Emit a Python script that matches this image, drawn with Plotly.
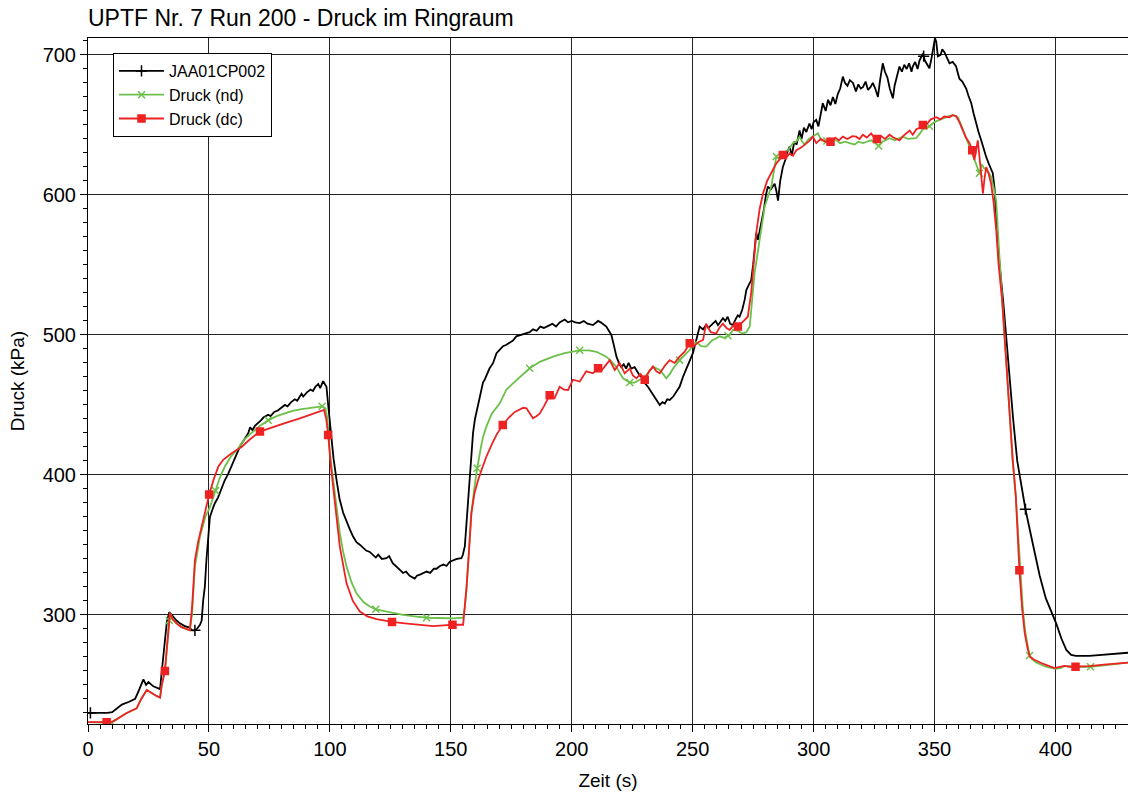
import numpy as np
import plotly.graph_objects as go

# ---------------- data ----------------
t_black = [0, 2, 5, 8, 10, 12, 14, 17, 19.5, 21, 22.9, 24, 25, 27, 29.8, 30.4, 31.5, 32.6, 33.6, 34.5, 36.6, 38, 40, 42, 43, 44.2, 45, 46.3, 47, 47.6, 48.3, 49, 49.8, 50.4, 51.8, 52.5, 53.8, 55, 56.5, 58, 59, 60.5, 62.1, 63, 64.5, 66.3, 67, 68, 69, 70.4, 71.5, 72.5, 74.5, 75.5, 77, 78.5, 80, 81.4, 82.5, 84, 85.5, 86.5, 88.3, 89, 90.5, 92, 93, 94, 95.2, 96, 97.2, 97.9, 98.6, 99.3, 100, 100.7, 101.5, 102.8, 104, 105.5, 107, 108.3, 109.6, 111, 112.5, 113.8, 115, 116.5, 117.9, 119, 120, 121.5, 123.4, 124.5, 126, 127.6, 129, 130.3, 131.5, 133, 135.1, 136, 137.5, 138.6, 140, 141.5, 143, 144.1, 145.5, 147, 148.2, 149.6, 151, 152.5, 154.4, 155, 155.8, 156.5, 157.2, 158, 159.2, 160, 161.3, 162.3, 163.3, 164, 165, 166, 167.5, 168.9, 170, 171.6, 173, 175.7, 177.1, 179, 180.5, 182.6, 184, 185.5, 187, 188.5, 190.9, 192, 193.5, 195, 197.1, 198.5, 200, 201.5, 203.3, 205, 206.5, 208.8, 210.9, 212, 214.3, 215.5, 216.4, 217.5, 218.5, 219.5, 220.5, 221.5, 222.5, 223.5, 224.6, 226, 227, 228.1, 229, 230, 231.5, 233, 234.5, 236.4, 237.5, 238.5, 239.5, 240.5, 242, 243.5, 244.6, 246, 247.5, 248.8, 250.1, 251, 252, 252.9, 254.3, 255.5, 256.5, 258.4, 259.5, 260.5, 262.5, 263.5, 264.5, 265.5, 266.6, 268, 268.7, 269.4, 270.5, 271.5, 272.2, 273, 274.2, 275, 276.3, 277, 278.4, 279.5, 280.3, 281.1, 282.3, 283.9, 284.6, 285.3, 286.2, 287.3, 288.3, 289, 290.1, 291, 292, 293, 294.2, 295, 296, 297, 298.3, 299.2, 300, 301.1, 302, 303, 303.8, 305, 306, 307, 308, 309, 310, 311, 312.1, 313, 314, 315, 316.3, 317.5, 318.5, 319.5, 320.4, 321.5, 322.5, 323.5, 324.5, 325.5, 326.6, 327.5, 328.6, 329.5, 330.5, 331.5, 332.8, 333.5, 334.5, 335.5, 336.5, 337.5, 338.5, 339.5, 340.5, 341, 342, 343, 343.8, 344.5, 345.2, 346, 347, 347.9, 348.8, 349.5, 350.2, 350.7, 351.4, 352.5, 353.2, 354.1, 355, 356.2, 357.5, 358.9, 359.5, 360.3, 361.5, 363.1, 364, 365.2, 366.2, 367.2, 368.2, 369.3, 370.3, 371.4, 372.5, 373.5, 374.1, 374.8, 375.5, 376.5, 378.5, 380.5, 382.5, 384.2, 386, 387.6, 389.5, 391.5, 393.5, 396, 398.8, 400.3, 402.5, 404.5, 406.5, 408.5, 414, 420, 425, 430]
p_black = [230, 230, 229.5, 230, 230.5, 233, 236, 238, 240, 246, 254, 250, 252, 249, 247, 258, 275, 295, 302, 300, 296, 294, 292, 291, 289, 289, 290, 293, 296, 310, 320, 340, 360, 370, 377, 380, 384, 390, 396, 401, 405, 411, 418, 421, 425, 430, 434, 432, 435, 437, 439, 441, 443, 442, 445, 446, 448, 450, 449, 452, 454, 453, 458, 456, 459, 461, 460, 463, 465, 462, 467, 465, 463, 450, 438, 425, 412, 396, 383, 373, 366, 361, 356, 352, 350, 348, 346, 345, 343, 341, 343, 340, 340.5, 342, 337, 334.5, 332, 330, 331, 328, 326, 328, 329, 330, 331, 330, 333, 333, 335, 336, 335, 338, 339, 340, 340.5, 343, 349, 365, 382, 405, 430, 440, 449, 458, 466, 468, 472, 476, 480, 487, 489, 492, 493, 496, 499, 500, 501, 502, 504, 503, 506, 505, 507, 508, 506, 509, 511, 509, 510, 509, 508.5, 510, 508, 507, 510, 509, 506, 503, 500, 492, 484.5, 480, 477, 479, 476, 480, 476, 477, 474, 471, 470, 466, 463, 459, 455, 450, 452, 451, 454, 453.6, 456, 460, 463, 470, 476, 482, 487, 493, 500, 506, 504, 507, 505, 508, 510, 507, 512, 510, 513, 508, 507, 512, 514, 513, 518, 525, 532, 535, 539, 550, 573, 568, 580, 590, 600, 606, 604, 608, 603, 596, 610, 620, 625, 630, 634.5, 628, 638, 636, 646, 640, 648, 645, 651, 647, 652, 653.6, 649, 660, 665.5, 660, 668, 664, 670, 665, 672, 676, 684.5, 680, 678, 682, 680, 674, 679, 676, 677, 681, 675, 677, 680, 676, 670, 682, 694, 688, 684, 676, 669, 678, 686, 691.7, 688, 693, 690, 694, 688, 691.7, 695, 690, 696, 698, 701, 696, 693, 690.5, 698, 705, 712, 709.5, 699, 700, 704, 702, 698, 694, 695, 692, 688, 683, 681, 676, 671, 665.5, 658, 651, 645, 639, 633, 627, 622, 618, 615.5, 605, 584.5, 558, 522, 480, 440, 410, 390, 375.5, 360, 344, 328, 312, 300, 294, 283, 275, 271.5, 270.7, 270.7, 271.5, 272.3, 273]

t_nd = [0, 4, 7.7, 9.8, 10.5, 13, 16, 20.1, 22, 24.3, 26, 28, 29.8, 30.5, 31.8, 33, 33.9, 35, 36.6, 38.5, 40.5, 42.1, 43, 44.2, 46.3, 48.5, 50.4, 52.7, 54.5, 56.6, 59, 62.1, 64.5, 67.6, 71, 74.5, 78, 81.4, 85, 88.3, 92, 96.8, 98.2, 99, 100, 101.4, 102.8, 104.1, 105.5, 106.9, 109, 111, 114, 116.5, 119, 124, 130.3, 135, 140, 145, 151, 155.1, 155.8, 156.5, 157.5, 158.5, 159.7, 160.9, 162.5, 163.3, 164.7, 167, 170.2, 172.9, 175.5, 178.5, 182.6, 187, 192.3, 197, 203.3, 207, 210.2, 214.3, 216.5, 218.5, 220, 221.2, 224, 226, 228.1, 230.9, 233.6, 236.4, 237.8, 239.1, 240.5, 241.9, 244.6, 248.1, 251.5, 253.5, 255.6, 258, 259.8, 261.2, 263, 265.3, 266.6, 268.7, 270.5, 272.2, 273.6, 275.6, 277.7, 279.8, 282.5, 283.5, 284.6, 286, 287.3, 289.5, 291.4, 292.8, 294.2, 295.3, 296.3, 298, 300, 301.8, 303.2, 305, 307, 309.4, 311, 313, 314.9, 317, 318.5, 320.4, 322, 323.8, 325.5, 326.9, 328.5, 331.4, 333.5, 336.9, 339, 342.4, 344, 345.2, 347.9, 350, 352, 354, 356.2, 357.8, 359.6, 361, 362.4, 363.8, 365.2, 366.8, 368.6, 369.5, 370.5, 371.4, 372.4, 373.4, 374.5, 375.5, 376.7, 377.9, 379.5, 381, 382.3, 383.6, 384.5, 385.5, 386.5, 387.5, 388.5, 389.3, 390.5, 392, 396, 400, 402, 404, 408, 414.5, 420, 425, 430]
p_nd = [223.4, 223.4, 223.4, 223, 224, 227, 230, 233.3, 240, 246.4, 244.5, 242.5, 241, 250, 260, 285, 301.6, 297, 294, 291.5, 290, 289, 300, 334.5, 356, 370, 377, 388.8, 398, 406, 413, 419, 425, 430, 435, 439, 442, 444, 446, 447, 448, 449, 447.6, 440, 415.5, 396.4, 375, 358.6, 345, 334.5, 323, 315.5, 309, 306, 304, 302, 300, 299, 298, 297.8, 297.6, 298, 305, 318, 345, 372.6, 390, 404.8, 420, 427, 434.5, 444, 451, 460.7, 465, 470, 476.2, 481, 484.5, 487, 489, 489, 488, 484.5, 481, 477, 473, 469, 466, 466, 468, 471.4, 477.4, 475, 472, 469, 472, 476, 482, 488, 495, 492, 491.7, 496, 497.6, 499, 498, 500, 503.6, 503, 501, 502, 506, 544, 568, 591.7, 606, 616, 627.4, 626, 629.8, 632, 637, 638, 641.6, 638, 636, 640, 642, 644, 639, 638, 640, 639, 637, 638, 637, 636, 638, 637, 638, 639, 637, 635, 638, 640.5, 639, 641.6, 640, 640.5, 644, 647, 649, 652, 653.6, 655, 656.4, 657, 655.5, 650, 644, 638, 632, 624, 615.5, 622, 619, 618, 616, 613, 605, 596, 560, 526, 482, 442, 410, 385, 360, 330, 305, 288, 277, 271, 268, 266, 263, 261.5, 262, 263.5, 263, 263, 264, 265, 266]

t_dc = [0, 4, 7.7, 10.5, 13, 16, 20.1, 22, 24.3, 26, 28, 29.8, 30.5, 31.8, 33, 33.9, 35, 36.6, 38.5, 40.5, 42.1, 43, 44.2, 45.5, 47, 48.5, 50.1, 52, 53.9, 56, 59.4, 63.5, 67, 71.1, 76, 81.4, 87, 92, 97.6, 98.5, 99.3, 100.5, 102.1, 104.1, 106.9, 109.5, 112.4, 115.5, 119.3, 125.7, 131, 137.2, 142.7, 147, 150.7, 155.1, 155.8, 156.5, 157.5, 158.5, 159.8, 161.3, 163, 164.7, 167, 169, 171.5, 174, 176.5, 178.5, 180, 181.3, 182.5, 184, 185.5, 186.8, 188.5, 190.9, 192.9, 195, 196.8, 198.5, 200.5, 203.3, 206, 208.8, 210.9, 212.5, 213.6, 215.7, 217.8, 219.8, 221.9, 224, 225.3, 226.7, 228.5, 230.2, 232, 233.6, 235, 236.4, 238.5, 240.5, 242.5, 244.6, 246.7, 248.8, 250.5, 252.5, 254.3, 255.6, 257.5, 259.8, 261, 262.5, 264, 265.3, 267, 268.7, 270.5, 272.8, 274.2, 275.3, 276.3, 277.7, 279.1, 280.8, 282.5, 284.6, 285.8, 287.3, 288.5, 290.1, 291.5, 292.9, 295, 297, 298.5, 299.7, 301.1, 303, 305, 307, 309, 310.5, 312.1, 314, 316, 317.6, 319, 320.4, 322, 323.8, 325, 326.2, 328, 329.5, 331.4, 333, 335.5, 337, 338.5, 339.7, 341, 342.5, 343.8, 345.2, 347, 348.5, 350.7, 352.5, 354, 356.2, 357.5, 358.9, 360.3, 361.7, 363, 364.5, 365.6, 366.5, 367.2, 367.9, 369, 370, 370.7, 371.4, 372.4, 373.4, 374.4, 375.5, 376.5, 377.9, 379.5, 381, 382.3, 383.6, 385.1, 386.2, 387.3, 388.5, 389.5, 391.3, 395, 399.6, 401.5, 403.7, 406, 408.5, 414, 420, 425, 430]
p_dc = [223.4, 223.4, 223.4, 224, 227, 230, 233.3, 240, 246.4, 244.5, 242.5, 241, 250, 260, 285, 301.6, 297, 294, 291.5, 290, 289, 305, 339, 352, 363, 375, 386, 397, 406, 411, 415.5, 420, 425.5, 431, 434, 437, 440, 443, 446.4, 440, 428.6, 405, 382, 349, 322.6, 310, 302.4, 299, 297, 295, 294, 293, 292, 292.5, 293, 293, 305, 320, 345, 372.6, 387, 396.4, 405, 413, 422, 429, 435.7, 441, 445, 446.8, 448, 447.6, 444, 440.5, 442, 444, 449, 457, 454.8, 463, 461, 460.7, 468, 466.7, 474, 472.6, 476.2, 475, 477.4, 482, 475, 480, 472.6, 476, 471, 469, 472, 468, 474, 477.4, 474, 472.6, 478, 482, 480, 484.5, 488, 494, 492, 495, 496.4, 508, 502, 501, 505, 508, 505, 503.6, 507, 506, 509, 513, 530, 552, 573, 590, 601, 610, 615.5, 622.6, 625, 628.6, 626, 629.8, 628, 632, 634, 637, 639, 641.6, 637, 640, 638, 638, 641, 639, 641.6, 640, 642, 641.6, 640, 643, 641, 644, 641, 640, 642, 640, 643, 641, 639, 642, 644, 646, 643, 647, 648, 650, 651, 654, 655.5, 654, 656, 655.5, 657, 656.4, 652, 646.4, 641, 637, 632, 625, 632, 639, 620, 601, 612, 620, 615, 608, 595, 575, 550, 526, 485, 442, 412, 385, 332, 305, 287, 276, 270, 268, 265, 262, 262.5, 263.6, 263, 263, 263.5, 264.5, 265.3, 266]

# marker positions (time) along each curve
mk_black_t = [1, 44.2, 345.5, 387.6]
mk_nd_t = [9.8, 33.6, 52.7, 74.5, 96.8, 119, 140, 160.9, 182.6, 203.3, 224, 244.6, 264.6, 284.6, 305.5, 326.9, 347.9, 368.6, 389.3, 414.5]
mk_dc_t = [7.7, 31.8, 50.1, 71.1, 99.3, 125.7, 150.7, 171.5, 190.9, 210.9, 230.2, 248.8, 268.7, 287.3, 307, 326.2, 345.2, 365.6, 385.1, 408.3]

names = ["JAA01CP002", "Druck (nd)", "Druck (dc)"]
colors = ["#000000", "#6CC04A", "#EE2222"]
symbols = ["cross-thin-open", "x-thin-open", "square"]
msizes = [8, 7, 7]

series = [(t_black, p_black, mk_black_t), (t_nd, p_nd, mk_nd_t), (t_dc, p_dc, mk_dc_t)]

FONT = "Liberation Sans, Arial, sans-serif"

fig = go.Figure()
for (t, p, mk), name, col, sym, ms in zip(series, names, colors, symbols, msizes):
    fig.add_trace(go.Scatter(x=t, y=p, mode="lines", line=dict(color=col, width=1.8),
                             showlegend=False, hoverinfo="skip"))
    mk_y = np.interp(mk, t, p)
    fig.add_trace(go.Scatter(x=mk, y=mk_y, mode="markers", showlegend=False,
                             marker=dict(symbol=sym, size=ms, color=col,
                                         line=dict(color=col, width=1.5))))
for name, col, sym, ms in zip(names, colors, symbols, msizes):
    fig.add_trace(go.Scatter(x=[None], y=[None], mode="lines+markers", name=name,
                             line=dict(color=col, width=1.8),
                             marker=dict(symbol=sym, size=ms, color=col,
                                         line=dict(color=col, width=1.5))))

axis_common = dict(showline=True, linecolor="black", linewidth=1, mirror=True,
                   showgrid=True, gridcolor="#222222", gridwidth=1,
                   ticks="outside", ticklen=7, tickcolor="black", zeroline=False,
                   tickfont=dict(family=FONT, size=20, color="black"))

fig.update_layout(
    width=1128, height=796,
    margin=dict(l=88, r=0, t=38, b=72),
    paper_bgcolor="white", plot_bgcolor="white",
    font=dict(family=FONT, color="black"),
    title=dict(text="UPTF Nr. 7 Run 200 - Druck im Ringraum",
               font=dict(family=FONT, size=23, color="black"),
               x=88/1128, xanchor="left", xref="container",
               y=1-18/796, yanchor="middle", yref="container"),
    xaxis=dict(range=[0, 430], dtick=50, tick0=0,
               title=dict(text="Zeit (s)", font=dict(family=FONT, size=19), standoff=14),
               minor=dict(dtick=5, ticks="outside", ticklen=4, tickcolor="black", showgrid=False),
               **axis_common),
    yaxis=dict(range=[222.1, 712.1], dtick=100, tick0=0,
               title=dict(text="Druck (kPa)", font=dict(family=FONT, size=19), standoff=12),
               minor=dict(dtick=10, ticks="outside", ticklen=4, tickcolor="black", showgrid=False),
               **axis_common),
    legend=dict(x=(113-88)/1040, y=(724-53)/686, xanchor="left", yanchor="top",
                bgcolor="white", bordercolor="black", borderwidth=1,
                font=dict(family=FONT, size=16, color="black"),
                tracegroupgap=0, itemwidth=45),
)

fig.write_html("out.html")
